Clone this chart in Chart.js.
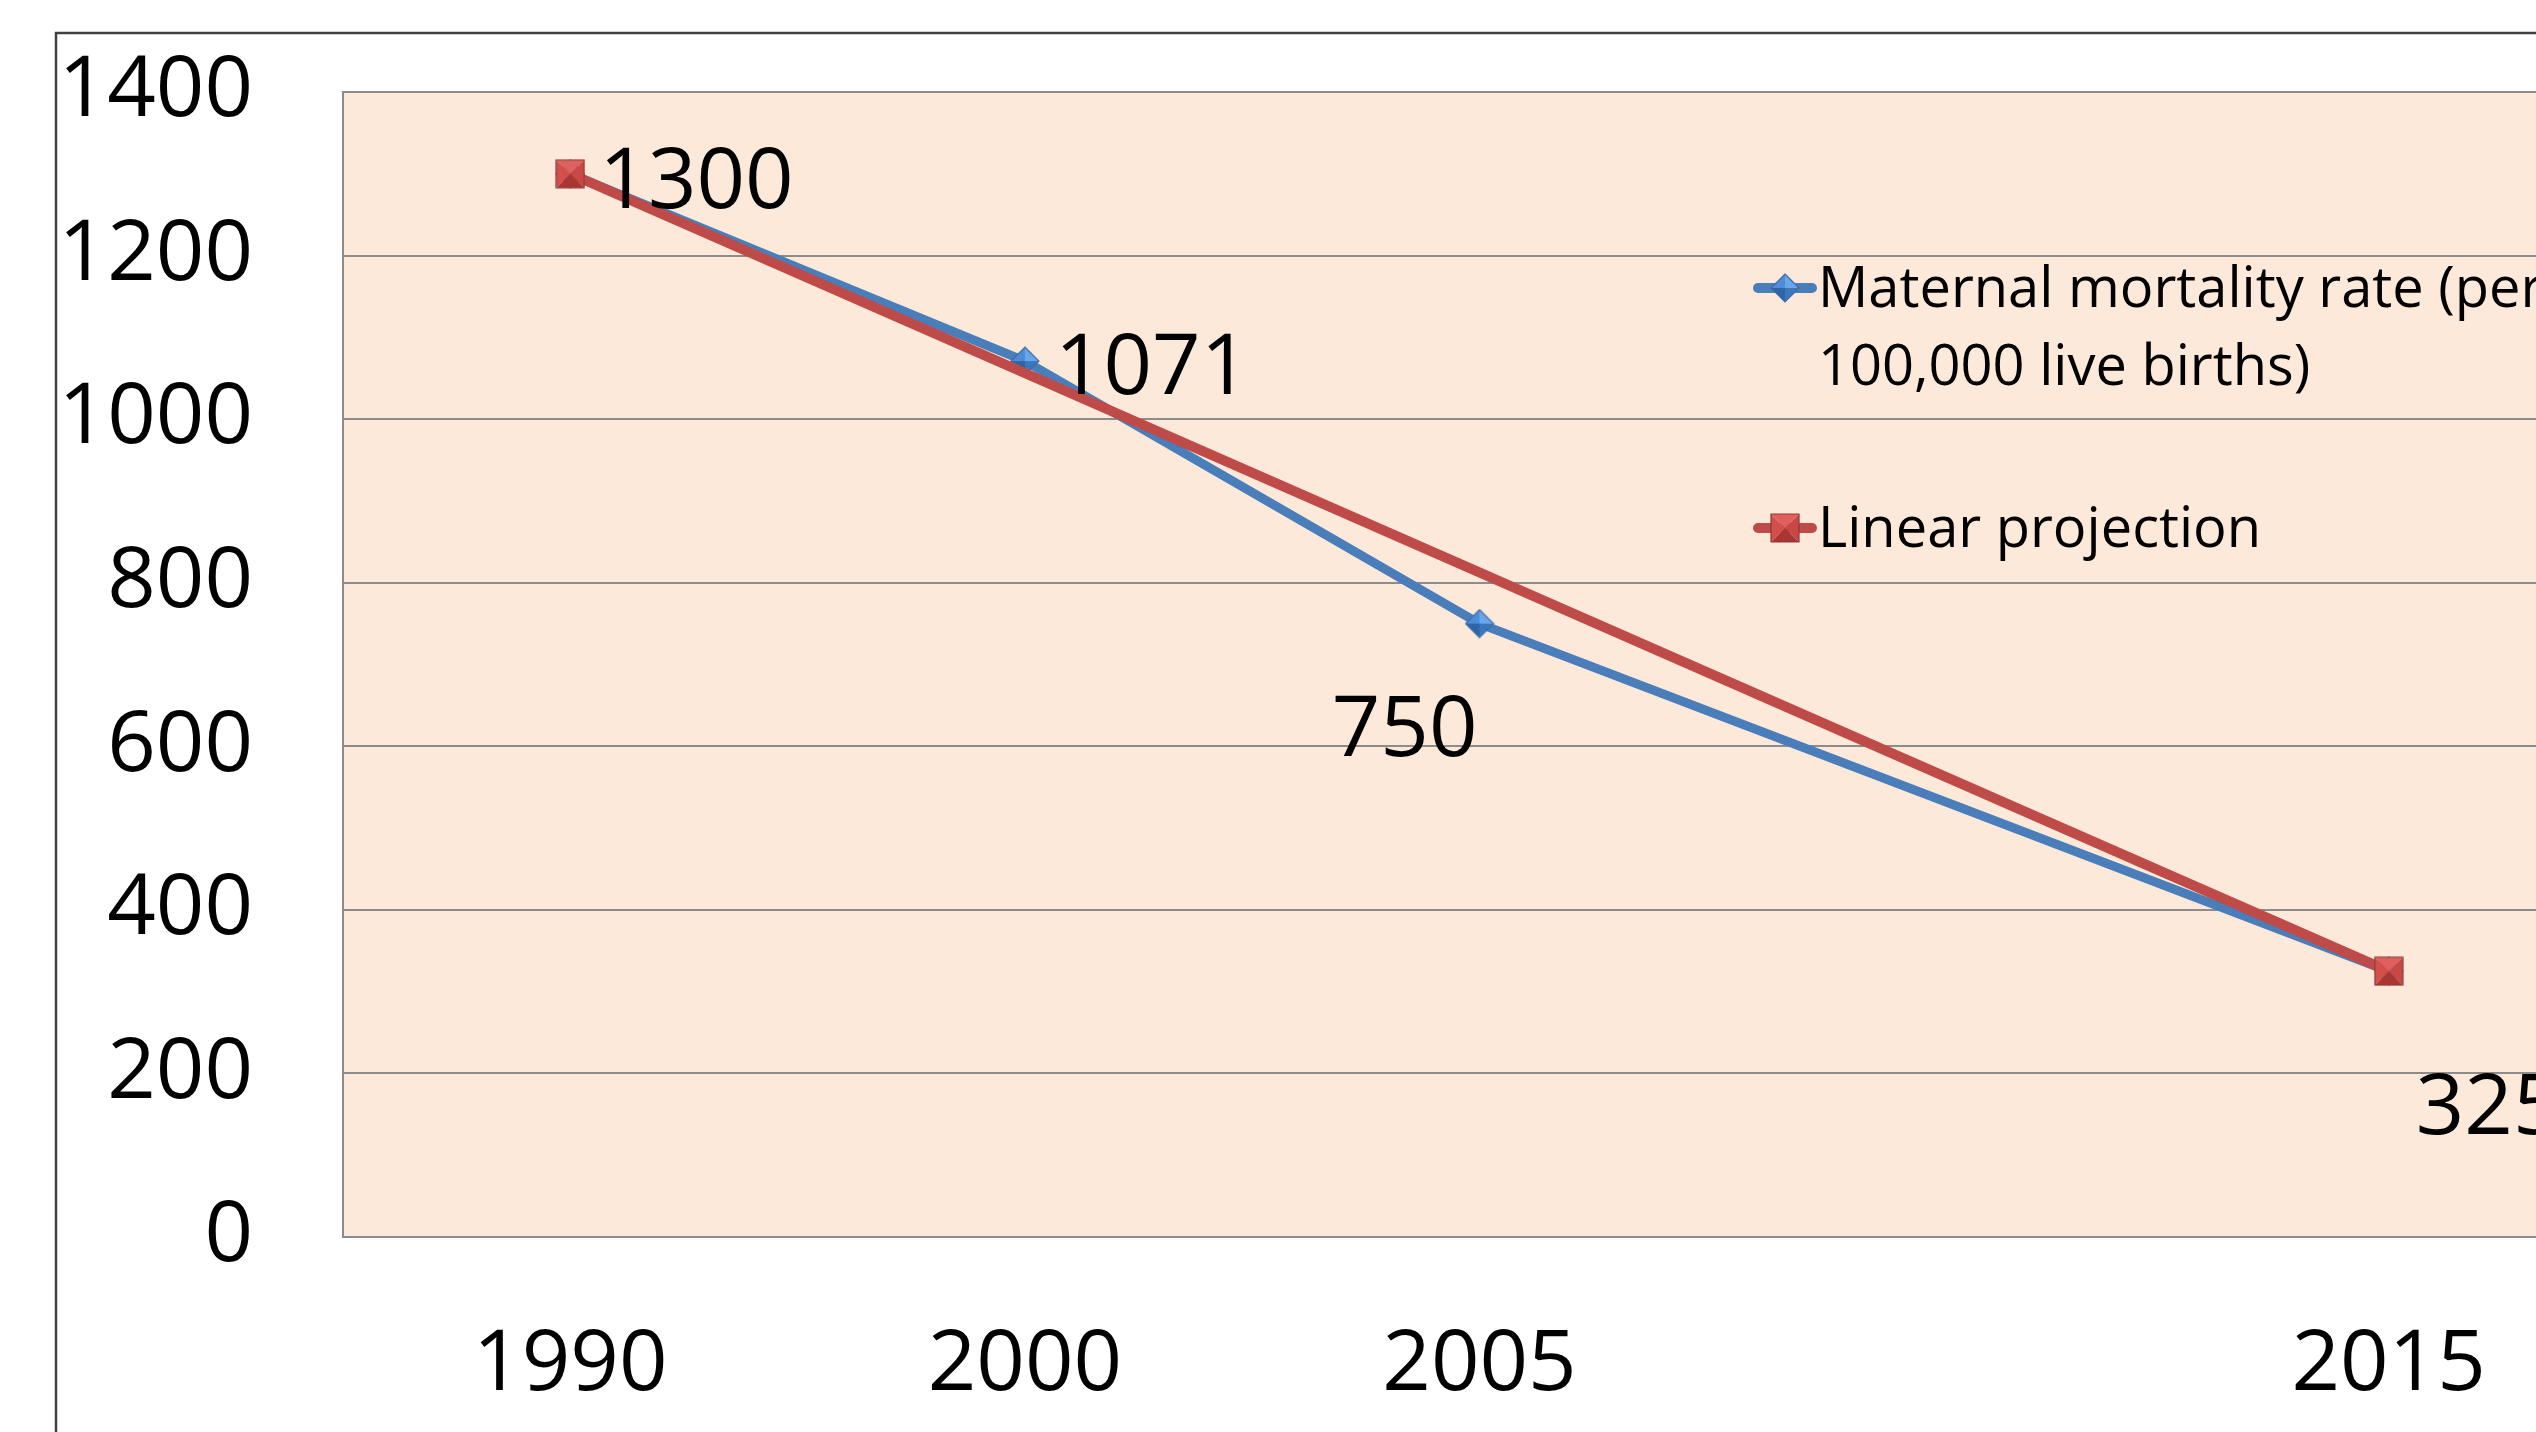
<!DOCTYPE html>
<html>
<head>
<meta charset="utf-8">
<title>Maternal mortality rate</title>
<script src="https://cdn.jsdelivr.net/npm/chart.js@4.4.1/dist/chart.umd.min.js"></script>
<style>
  html, body { margin: 0; padding: 0; background: #fff; overflow: hidden; }
  /* the chart runs past the right edge of the window, like the cropped slide */
  #wrap { position: relative; width: 2700px; height: 1432px; }
</style>
</head>
<body>
<div id="wrap"><canvas id="mmrChart"></canvas></div>
<script>
// categories (2010 slot is left empty on the axis)
const years = ['1990', '2000', '2005', '', '2015'];
// maternal mortality rate, per 100,000 live births
const mmrValues = [1300, 1071, 750, null, 325];
// linear projection only has its two end points
const projectionValues = [1300, null, null, null, 325];
const yTicks = [0, 200, 400, 600, 800, 1000, 1200, 1400];

const seriesNames = ['Maternal mortality rate (per', '100,000 live births)'];
const projectionName = 'Linear projection';

const FONT = "'Open Sans', 'DejaVu Sans', sans-serif";
const BLUE = '#4A7EBB';
const RED = '#BE4B48';

// where each value label sits relative to its point: [dx, dy, align]
const labelPlacement = [
    [29, 4, 'left'],
    [30, 3, 'left'],
    [-2, 102, 'right'],
    null,
    [27, 132, 'left']
];

// bevelled markers, a bit like the Office ones
function pyramid(size, shape, shades, edge) {
    const c = document.createElement('canvas');
    c.width = size + 2;
    c.height = size + 2;
    const g = c.getContext('2d');
    const m = size / 2 + 1;
    let corners;
    if (shape === 'square') {
        corners = [[1, 1], [size + 1, 1], [size + 1, size + 1], [1, size + 1]];
    } else {
        corners = [[m, 1], [size + 1, m], [m, size + 1], [1, m]];
    }
    for (let i = 0; i < 4; i++) {
        const a = corners[i], b = corners[(i + 1) % 4];
        g.beginPath();
        g.moveTo(m, m); g.lineTo(a[0], a[1]); g.lineTo(b[0], b[1]);
        g.closePath();
        g.fillStyle = shades[i];
        g.fill();
    }
    g.beginPath();
    corners.forEach((p, i) => i ? g.lineTo(p[0], p[1]) : g.moveTo(p[0], p[1]));
    g.closePath();
    g.strokeStyle = edge;
    g.lineWidth = 1.2;
    g.stroke();
    return c;
}

const redSquare = pyramid(28, 'square', ['#E0605D', '#C94744', '#A93633', '#D24F4C'], '#8E3A38');
const blueDiamond = pyramid(28, 'diamond', ['#6AA6EA', '#3C77BE', '#2F64A6', '#4F8CD6'], '#3A6CA8');

const plotBackground = {
    id: 'plotBackground',
    beforeDraw(chart) {
        const { ctx, chartArea } = chart;
        ctx.save();
        ctx.fillStyle = '#FDE9D9';
        ctx.fillRect(chartArea.left, chartArea.top, chartArea.right - chartArea.left, chartArea.bottom - chartArea.top);
        // outer frame of the chart object
        ctx.strokeStyle = '#404040';
        ctx.lineWidth = 2.5;
        ctx.strokeRect(56, 33, 4000, 4000);
        ctx.restore();
    }
};

function capBaseline(center, size) {
    return center + size * 0.357;
}

const valueLabels = {
    id: 'valueLabels',
    afterDatasetsDraw(chart) {
        const { ctx } = chart;
        const idx = chart.data.datasets.findIndex(d => d.data === mmrValues);
        const meta = chart.getDatasetMeta(idx);
        const size = 85;
        ctx.save();
        ctx.font = `${size}px ${FONT}`;
        ctx.fillStyle = '#000';
        ctx.textBaseline = 'alphabetic';
        mmrValues.forEach((v, i) => {
            if (v === null || !labelPlacement[i]) return;
            const pt = meta.data[i];
            const [dx, dy, align] = labelPlacement[i];
            ctx.textAlign = align;
            ctx.fillText(String(v), pt.x + dx, capBaseline(pt.y + dy, size));
        });
        ctx.restore();
    }
};

const sideLegend = {
    id: 'sideLegend',
    afterDraw(chart) {
        const { ctx } = chart;
        const size = 56;
        const x0 = 1758, x1 = 1812, tx = 1818;
        const mid = (x0 + x1) / 2;
        ctx.save();
        ctx.lineCap = 'round';
        ctx.lineWidth = 10;

        ctx.strokeStyle = BLUE;
        ctx.beginPath(); ctx.moveTo(x0, 288); ctx.lineTo(x1, 288); ctx.stroke();
        ctx.drawImage(blueDiamond, mid - blueDiamond.width / 2, 288 - blueDiamond.height / 2);

        ctx.strokeStyle = RED;
        ctx.beginPath(); ctx.moveTo(x0, 528); ctx.lineTo(x1, 528); ctx.stroke();
        ctx.drawImage(redSquare, mid - redSquare.width / 2, 528 - redSquare.height / 2);

        ctx.font = `${size}px ${FONT}`;
        ctx.fillStyle = '#000';
        ctx.textAlign = 'left';
        ctx.textBaseline = 'alphabetic';
        ctx.fillText(seriesNames[0], tx, 307);
        ctx.fillText(seriesNames[1], tx, 385);
        ctx.fillText(projectionName, tx, 547);
        ctx.restore();
    }
};

const ctx = document.getElementById('mmrChart').getContext('2d');

new Chart(ctx, {
    type: 'line',
    data: {
        labels: years,
        datasets: [
            {
                label: projectionName,
                data: projectionValues,
                borderColor: RED,
                borderWidth: 10,
                spanGaps: true,
                pointStyle: redSquare,
                pointRadius: 14,
                tension: 0
            },
            {
                label: seriesNames.join(' '),
                data: mmrValues,
                borderColor: BLUE,
                borderWidth: 9,
                spanGaps: true,
                pointStyle: blueDiamond,
                pointRadius: 14,
                tension: 0
            }
        ]
    },
    options: {
        responsive: true,
        maintainAspectRatio: false,
        animation: false,
        layout: { padding: { left: 0, top: 92, right: 84, bottom: 0 } },
        plugins: {
            legend: { display: false },
            tooltip: { enabled: false }
        },
        scales: {
            x: {
                offset: true,
                grid: { display: false, drawTicks: false },
                border: { display: true, color: '#8C8C8C', width: 2 },
                ticks: {
                    color: '#000',
                    padding: 78,
                    maxRotation: 0,
                    autoSkip: false,
                    font: { family: FONT, size: 85 }
                },
                afterFit(scale) { scale.height = 195; }
            },
            y: {
                min: 0,
                max: 1400,
                afterBuildTicks(scale) { scale.ticks = yTicks.map(v => ({ value: v })); },
                grid: { color: '#8C8C8C', lineWidth: 2, drawTicks: false },
                border: { display: true, color: '#8C8C8C', width: 2 },
                ticks: {
                    color: '#000',
                    padding: 90,
                    font: { family: FONT, size: 85 },
                    callback: v => String(v)
                },
                afterFit(scale) {
                    scale.width = 343;
                    // the horizontal label gap should not push the plot down
                    scale.paddingTop = 0;
                    scale.paddingBottom = 0;
                }
            }
        }
    },
    plugins: [plotBackground, valueLabels, sideLegend]
});
</script>
</body>
</html>
